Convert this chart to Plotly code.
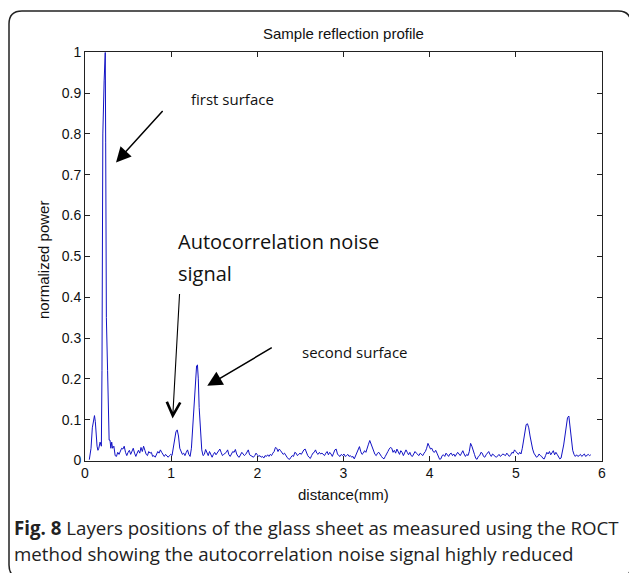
import plotly.graph_objects as go

W, H = 629, 573

# ---------------- data ----------------
distance_mm = [
    0.050, 0.070, 0.085, 0.100, 0.110, 0.120, 0.130, 0.140, 0.150, 0.160,
    0.175, 0.190, 0.197, 0.207, 0.222, 0.235, 0.240, 0.248, 0.262, 0.270,
    0.280, 0.290, 0.300, 0.310, 0.320, 0.335, 0.350, 0.365, 0.380, 0.395,
    0.410, 0.425, 0.440, 0.455, 0.470, 0.485, 0.500, 0.515, 0.530, 0.545,
    0.560, 0.575, 0.590, 0.605, 0.620, 0.635, 0.650, 0.665, 0.680, 0.695,
    0.710, 0.725, 0.740, 0.755, 0.770, 0.785, 0.800, 0.815, 0.830, 0.845,
    0.860, 0.875, 0.890, 0.905, 0.920, 0.935, 0.950, 0.965, 0.980, 0.995,
    1.010, 1.025, 1.040, 1.055, 1.070, 1.085, 1.100, 1.115, 1.130, 1.145,
    1.160, 1.175, 1.190, 1.205, 1.220, 1.235, 1.250, 1.265, 1.280, 1.295,
    1.305, 1.315, 1.325, 1.340, 1.355, 1.370, 1.385, 1.400, 1.415, 1.430,
    1.445, 1.460, 1.475, 1.490, 1.505, 1.520, 1.535, 1.550, 1.565, 1.580,
    1.595, 1.610, 1.625, 1.640, 1.655, 1.670, 1.685, 1.700, 1.715, 1.730,
    1.745, 1.760, 1.775, 1.790, 1.805, 1.820, 1.835, 1.850, 1.865, 1.880,
    1.895, 1.910, 1.925, 1.940, 1.955, 1.970, 1.985, 2.000, 2.015, 2.030,
    2.045, 2.060, 2.075, 2.090, 2.105, 2.120, 2.135, 2.150, 2.165, 2.180,
    2.195, 2.210, 2.225, 2.240, 2.255, 2.270, 2.285, 2.300, 2.315, 2.330,
    2.345, 2.360, 2.375, 2.390, 2.405, 2.420, 2.435, 2.450, 2.465, 2.480,
    2.495, 2.510, 2.525, 2.540, 2.555, 2.570, 2.585, 2.600, 2.615, 2.630,
    2.645, 2.660, 2.675, 2.690, 2.705, 2.720, 2.735, 2.750, 2.765, 2.780,
    2.795, 2.810, 2.825, 2.840, 2.855, 2.870, 2.885, 2.900, 2.915, 2.930,
    2.945, 2.960, 2.975, 2.990, 3.005, 3.020, 3.035, 3.050, 3.065, 3.080,
    3.095, 3.110, 3.125, 3.140, 3.155, 3.170, 3.185, 3.200, 3.215, 3.230,
    3.245, 3.260, 3.275, 3.290, 3.305, 3.320, 3.335, 3.350, 3.365, 3.380,
    3.395, 3.410, 3.425, 3.440, 3.455, 3.470, 3.485, 3.500, 3.515, 3.530,
    3.545, 3.560, 3.575, 3.590, 3.605, 3.620, 3.635, 3.650, 3.665, 3.680,
    3.695, 3.710, 3.725, 3.740, 3.755, 3.770, 3.785, 3.800, 3.815, 3.830,
    3.845, 3.860, 3.875, 3.890, 3.905, 3.920, 3.935, 3.950, 3.965, 3.980,
    3.995, 4.010, 4.025, 4.040, 4.055, 4.070, 4.085, 4.100, 4.115, 4.130,
    4.145, 4.160, 4.175, 4.190, 4.205, 4.220, 4.235, 4.250, 4.265, 4.280,
    4.295, 4.310, 4.325, 4.340, 4.355, 4.370, 4.385, 4.400, 4.415, 4.430,
    4.445, 4.460, 4.475, 4.490, 4.505, 4.520, 4.535, 4.550, 4.565, 4.580,
    4.595, 4.610, 4.625, 4.640, 4.655, 4.670, 4.685, 4.700, 4.715, 4.730,
    4.745, 4.760, 4.775, 4.790, 4.805, 4.820, 4.835, 4.850, 4.865, 4.880,
    4.895, 4.910, 4.925, 4.940, 4.955, 4.970, 4.985, 5.000, 5.015, 5.030,
    5.045, 5.060, 5.075, 5.090, 5.105, 5.120, 5.135, 5.150, 5.165, 5.180,
    5.195, 5.210, 5.225, 5.240, 5.255, 5.270, 5.285, 5.300, 5.315, 5.330,
    5.345, 5.360, 5.375, 5.390, 5.405, 5.420, 5.435, 5.450, 5.465, 5.480,
    5.495, 5.510, 5.525, 5.540, 5.555, 5.570, 5.585, 5.600, 5.615, 5.630,
    5.645, 5.660, 5.675, 5.690, 5.705, 5.720, 5.735, 5.750, 5.765, 5.780,
    5.795, 5.810, 5.825, 5.840, 5.855, 5.870,
]

power = [
    0.002, 0.030, 0.080, 0.105, 0.110, 0.095, 0.060, 0.035, 0.025, 0.030,
    0.045, 0.035, 0.220, 0.800, 0.930, 1.000, 0.780, 0.350, 0.220, 0.075,
    0.050, 0.050, 0.030, 0.045, 0.030, 0.035, 0.012, 0.010, 0.020, 0.015,
    0.022, 0.030, 0.028, 0.035, 0.020, 0.012, 0.020, 0.025, 0.015, 0.022,
    0.030, 0.018, 0.010, 0.018, 0.025, 0.018, 0.032, 0.022, 0.035, 0.025,
    0.015, 0.012, 0.022, 0.018, 0.020, 0.010, 0.012, 0.008, 0.015, 0.022,
    0.018, 0.026, 0.020, 0.015, 0.010, 0.015, 0.012, 0.008, 0.012, 0.015,
    0.012, 0.030, 0.055, 0.070, 0.075, 0.060, 0.030, 0.020, 0.015, 0.018,
    0.012, 0.020, 0.026, 0.015, 0.010, 0.030, 0.080, 0.150, 0.200, 0.232,
    0.234, 0.200, 0.130, 0.060, 0.026, 0.012, 0.015, 0.027, 0.018, 0.012,
    0.022, 0.016, 0.008, 0.015, 0.020, 0.014, 0.018, 0.022, 0.028, 0.020,
    0.012, 0.015, 0.018, 0.020, 0.026, 0.014, 0.010, 0.018, 0.022, 0.020,
    0.027, 0.016, 0.010, 0.008, 0.015, 0.020, 0.016, 0.012, 0.015, 0.020,
    0.026, 0.014, 0.012, 0.010, 0.008, 0.012, 0.018, 0.014, 0.010, 0.012,
    0.008, 0.010, 0.006, 0.012, 0.010, 0.014, 0.010, 0.015, 0.012, 0.018,
    0.022, 0.032, 0.030, 0.022, 0.028, 0.024, 0.020, 0.015, 0.018, 0.012,
    0.008, 0.004, 0.003, 0.008, 0.012, 0.010, 0.020, 0.018, 0.012, 0.015,
    0.018, 0.015, 0.022, 0.026, 0.028, 0.018, 0.012, 0.008, 0.005, 0.012,
    0.018, 0.020, 0.026, 0.018, 0.015, 0.020, 0.016, 0.018, 0.014, 0.012,
    0.018, 0.022, 0.014, 0.020, 0.016, 0.010, 0.018, 0.026, 0.028, 0.016,
    0.012, 0.010, 0.015, 0.012, 0.016, 0.010, 0.012, 0.015, 0.010, 0.012,
    0.008, 0.010, 0.004, 0.012, 0.020, 0.030, 0.034, 0.022, 0.015, 0.018,
    0.024, 0.020, 0.028, 0.040, 0.049, 0.040, 0.030, 0.020, 0.015, 0.012,
    0.018, 0.020, 0.014, 0.010, 0.006, 0.004, 0.010, 0.018, 0.022, 0.028,
    0.032, 0.030, 0.020, 0.025, 0.018, 0.028, 0.020, 0.015, 0.024, 0.020,
    0.012, 0.018, 0.026, 0.020, 0.014, 0.020, 0.012, 0.010, 0.016, 0.022,
    0.018, 0.014, 0.012, 0.018, 0.015, 0.012, 0.018, 0.022, 0.030, 0.042,
    0.035, 0.028, 0.030, 0.022, 0.020, 0.025, 0.018, 0.008, 0.003, 0.004,
    0.012, 0.014, 0.010, 0.018, 0.014, 0.010, 0.016, 0.018, 0.012, 0.016,
    0.010, 0.014, 0.020, 0.016, 0.012, 0.018, 0.024, 0.016, 0.010, 0.015,
    0.012, 0.022, 0.042, 0.035, 0.022, 0.015, 0.005, 0.003, 0.010, 0.012,
    0.020, 0.018, 0.010, 0.008, 0.014, 0.018, 0.022, 0.015, 0.010, 0.016,
    0.012, 0.010, 0.008, 0.012, 0.015, 0.010, 0.012, 0.016, 0.014, 0.012,
    0.018, 0.015, 0.010, 0.014, 0.020, 0.018, 0.026, 0.022, 0.018, 0.015,
    0.020, 0.016, 0.030, 0.050, 0.075, 0.088, 0.090, 0.080, 0.060, 0.040,
    0.028, 0.018, 0.012, 0.008, 0.010, 0.016, 0.012, 0.010, 0.005, 0.004,
    0.012, 0.020, 0.016, 0.022, 0.014, 0.020, 0.024, 0.014, 0.020, 0.015,
    0.008, 0.004, 0.006, 0.020, 0.038, 0.060, 0.085, 0.105, 0.109, 0.080,
    0.042, 0.025, 0.015, 0.010, 0.014, 0.010, 0.012, 0.015, 0.010, 0.012,
    0.016, 0.010, 0.012, 0.015, 0.012, 0.014,
]

x_ticks = [0, 1, 2, 3, 4, 5, 6]
y_ticks = [0, 0.1, 0.2, 0.3, 0.4, 0.5, 0.6, 0.7, 0.8, 0.9, 1]
y_tick_text = ["0", "0.1", "0.2", "0.3", "0.4", "0.5", "0.6", "0.7", "0.8", "0.9", "1"]

title_text = "Sample reflection profile"
x_title = "distance(mm)"
y_title = "normalized power"
caption_line1 = "<b>Fig. 8</b> Layers positions of the glass sheet as measured using the ROCT"
caption_line2 = "method showing the autocorrelation noise signal highly reduced"

# ---------------- layout helpers (pixels -> paper) ----------------
PL, PR, PT, PB = 85, 602, 52.3, 460.5


def px(x):
    return x / W


def py(y):
    return 1 - y / H


fig = go.Figure()
fig.add_trace(go.Scatter(
    x=distance_mm, y=power, mode="lines",
    line=dict(color="#1212c4", width=1),
    showlegend=False, hoverinfo="skip",
))

tick_font = dict(family="Liberation Sans, Arial, sans-serif", size=14, color="#111")

fig.update_layout(
    width=W, height=H,
    margin=dict(l=0, r=0, t=0, b=0, autoexpand=False),
    paper_bgcolor="white", plot_bgcolor="white",
    showlegend=False,
    xaxis=dict(
        domain=[px(PL), px(PR)], range=[0, 6], automargin=False,
        tickvals=x_ticks, ticktext=[str(v) for v in x_ticks],
        ticks="inside", ticklen=5, tickcolor="#222", tickwidth=1,
        showline=True, linecolor="#222", linewidth=1, mirror="allticks",
        showgrid=False, zeroline=False, tickfont=tick_font,
    ),
    yaxis=dict(
        domain=[py(PB), py(PT)], range=[0, 1], automargin=False,
        tickvals=y_ticks, ticktext=y_tick_text,
        ticks="inside", ticklen=5, tickcolor="#222", tickwidth=1,
        showline=True, linecolor="#222", linewidth=1, mirror="allticks",
        showgrid=False, zeroline=False, tickfont=tick_font,
    ),
)

# rounded frame around the whole figure
L, T, R, B, r = 9, 11, 631, 578, 13
frame = (f"M {px(L + r)},{py(T)} L {px(R - r)},{py(T)} "
         f"Q {px(R)},{py(T)} {px(R)},{py(T + r)} "
         f"L {px(R)},{py(B - r)} Q {px(R)},{py(B)} {px(R - r)},{py(B)} "
         f"L {px(L + r)},{py(B)} Q {px(L)},{py(B)} {px(L)},{py(B - r)} "
         f"L {px(L)},{py(T + r)} Q {px(L)},{py(T)} {px(L + r)},{py(T)} Z")
fig.add_shape(type="path", path=frame, xref="paper", yref="paper",
              line=dict(color="#222", width=1.5))

lab_font = dict(family="Liberation Sans, Arial, sans-serif", size=15, color="#111")
ann = [
    dict(x=px((PL + PR) / 2), y=py(34), text=title_text, font=lab_font),
    dict(x=px((PL + PR) / 2), y=py(494), text=x_title, font=lab_font),
    dict(x=px(43), y=py(260), text=y_title, font=lab_font, textangle=-90),
]
for a in ann:
    fig.add_annotation(xref="paper", yref="paper", showarrow=False,
                       xanchor="center", yanchor="middle", **a)

note_font = dict(family="Open Sans, sans-serif", color="#111")
fig.add_annotation(xref="paper", yref="paper", x=px(189), y=py(99), text="first surface",
                   showarrow=False, xanchor="left", yanchor="middle",
                   font=dict(note_font, size=15))
fig.add_annotation(xref="paper", yref="paper", x=px(176), y=py(242),
                   text="Autocorrelation noise", showarrow=False,
                   xanchor="left", yanchor="middle", font=dict(note_font, size=20))
fig.add_annotation(xref="paper", yref="paper", x=px(176), y=py(273),
                   text="signal", showarrow=False,
                   xanchor="left", yanchor="middle", font=dict(note_font, size=20))
fig.add_annotation(xref="paper", yref="paper", x=px(300), y=py(352),
                   text="second surface", showarrow=False,
                   xanchor="left", yanchor="middle", font=dict(note_font, size=15))

# arrows (heads given in data coordinates, tails as pixel offsets)
fig.add_annotation(x=0.36, y=0.73, xref="x", yref="y", text="", showarrow=True,
                   ax=48, ay=-53, arrowhead=2, arrowsize=2, arrowwidth=1.5,
                   arrowcolor="#000")
fig.add_annotation(x=1.419, y=0.183, xref="x", yref="y", text="", showarrow=True,
                   ax=66, ay=-39, arrowhead=2, arrowsize=2, arrowwidth=1.5,
                   arrowcolor="#000")
fig.add_annotation(x=1.017, y=0.103, xref="x", yref="y", text="", showarrow=True,
                   ax=7, ay=-126, arrowhead=5, arrowsize=2.4, arrowwidth=1.1,
                   arrowcolor="#000")

# caption
cap_font = dict(family="Open Sans, sans-serif", size=18.7, color="#222")
fig.add_annotation(xref="paper", yref="paper", x=px(12), y=py(527), text=caption_line1,
                   showarrow=False, xanchor="left", yanchor="middle", font=cap_font)
fig.add_annotation(xref="paper", yref="paper", x=px(12), y=py(553), text=caption_line2,
                   showarrow=False, xanchor="left", yanchor="middle", font=cap_font)

fig.write_html("out.html")
